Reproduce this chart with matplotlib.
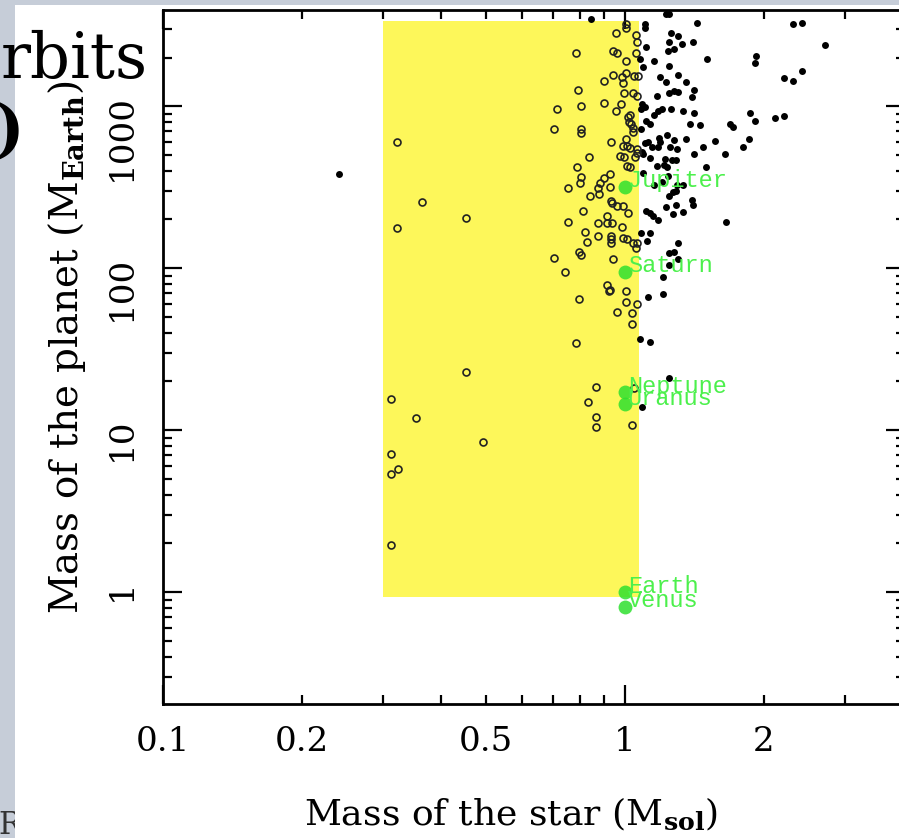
import numpy as np
import matplotlib.pyplot as plt
from matplotlib.ticker import FixedLocator, FuncFormatter, LogLocator
from matplotlib.patches import Rectangle

# planets found around stars outside the highlighted band (filled dots)
star_out = [1.227, 1.245, 0.844, 1.105, 1.432, 1.105, 1.258, 1.303, 1.403, 1.245,
            1.329, 1.110, 1.239, 1.277, 1.078, 1.155, 1.505, 1.245, 1.094, 1.303,
            1.191, 1.227, 1.356, 1.411, 1.277, 1.245, 1.303, 1.173, 1.396, 1.088,
            1.105, 1.083, 1.258, 1.202, 1.179, 1.336, 1.411, 1.155, 1.110, 1.133,
            1.382, 1.453, 1.083, 1.233, 1.356, 1.277, 1.185, 1.121, 1.105, 1.191,
            1.566, 1.144, 1.179, 1.251, 1.296, 1.475, 1.088, 1.094, 1.411, 1.133,
            1.221, 1.264, 1.290, 1.214, 1.173, 1.233, 1.497, 1.094, 1.239, 1.155,
            1.202, 1.296, 1.336, 1.270, 1.290, 1.245, 1.396, 1.403, 1.227, 1.290,
            1.110, 1.133, 1.150, 1.179, 1.270, 1.336, 1.083, 1.133, 1.116, 1.303,
            1.245, 1.277, 1.303, 1.245, 1.208, 1.121, 1.208, 2.31, 2.416, 2.71,
            1.92, 1.911, 2.416, 2.21, 2.31, 1.864, 1.911, 2.112, 2.21, 1.69,
            1.713, 1.855, 1.80, 1.646, 1.654, 1.078, 1.133, 1.245, 1.088, 0.240]
planet_out = [3700, 3700, 3440, 3210, 3255, 3030, 2820, 2705, 2485, 2485,
              2415, 2313, 2185, 2250, 1950, 1895, 1950, 1765, 1740, 1553,
              1510, 1406, 1406, 1256, 1239, 1202, 1220, 1153, 1137, 1028,
              986, 958, 958, 958, 931, 931, 905, 880, 808, 774,
              774, 763, 721, 662, 625, 617, 634, 600, 591, 600,
              608, 558, 558, 558, 543, 558, 520, 506, 506, 478,
              471, 464, 464, 432, 426, 420, 420, 386, 370, 325,
              340, 325, 325, 294, 299, 278, 263, 245, 238, 245,
              225, 219, 209, 198, 216, 222, 164, 164, 147, 143,
              124, 126, 114, 104, 88, 66, 69, 3210, 3255, 2380,
              2035, 1840, 1645, 1489, 1426, 905, 808, 843, 867, 774,
              742, 625, 558, 506, 192, 36.5, 34.9, 20.9, 13.9, 380]

# planets inside the highlighted band (open circles)
star_in = [1.005, 1.005, 1.056, 0.956, 1.062, 0.783, 0.942, 0.961, 1.056, 1.005,
           0.942, 0.985, 1.005, 1.046, 1.067, 0.901, 0.990, 0.791, 0.995, 1.041,
           1.062, 0.980, 0.901, 0.712, 0.803, 0.956, 1.015, 1.025, 1.020, 1.030,
           1.041, 0.803, 0.803, 0.702, 1.041, 0.933, 1.005, 0.990, 1.010, 1.025,
           1.062, 0.836, 0.975, 0.995, 1.051, 1.062, 1.010, 0.787, 1.025, 0.803,
           0.799, 0.753, 0.928, 0.901, 0.883, 0.874, 0.928, 0.840, 0.878, 0.933,
           0.937, 0.961, 0.990, 1.015, 0.811, 0.914, 0.753, 0.874, 0.914, 0.937,
           0.985, 0.819, 0.874, 0.933, 0.933, 0.933, 0.990, 1.010, 1.041, 1.062,
           1.056, 0.827, 0.795, 0.803, 0.702, 0.942, 0.741, 0.914, 0.928, 1.005,
           0.795, 1.005, 1.062, 0.961, 1.035, 1.035, 0.923, 0.783, 0.453, 0.866,
           1.046, 0.311, 0.832, 0.353, 0.866, 0.866, 1.035, 0.493, 0.311, 0.322,
           0.311, 0.311, 0.321, 0.363, 0.453, 0.321]
planet_in = [3210, 3030, 2740, 2820, 2485, 2125, 2185, 2125, 2125, 1895,
             1553, 1510, 1600, 1531, 1531, 1426, 1387, 1256, 1202, 1202,
             1153, 1028, 1044, 958, 1000, 931, 855, 880, 797, 774,
             731, 721, 681, 721, 691, 600, 625, 566, 566, 550,
             543, 484, 491, 484, 484, 513, 426, 420, 420, 365,
             335, 312, 380, 359, 335, 312, 316, 278, 286, 259,
             252, 241, 241, 219, 225, 209, 192, 190, 190, 190,
             179, 167, 158, 158, 151, 143, 153, 151, 143, 143,
             133, 145, 126, 120, 115, 114, 94.5, 78.5, 73, 72,
             64.5, 61.7, 60, 53.5, 52.7, 45.1, 72, 34.4, 22.8, 18.4,
             18.2, 15.5, 14.9, 11.9, 12.0, 10.4, 10.7, 8.43, 7.11, 5.74,
             5.35, 1.95, 600, 255, 204, 177]

# solar system planets
sol_names = ["Jupiter", "Saturn", "Neptune", "Uranus", "Earth", "Venus"]
sol_star = [1, 1, 1, 1, 1, 1]
sol_mass = [318, 95, 17.1, 14.5, 1.0, 0.815]

# highlighted band
band_star = (0.30, 1.072)
band_planet = (0.93, 3350)

plt.rcParams['font.family'] = 'DejaVu Serif'
plt.rcParams['mathtext.fontset'] = 'dejavuserif'

fig = plt.figure(figsize=(8.99, 8.38), dpi=100)
fig.patch.set_facecolor('#c6cdd8')
fig.add_artist(Rectangle((15/899, 0), 1, 1 - 5/838, transform=fig.transFigure,
                         facecolor='white', edgecolor='none', zorder=-1))
fig.text(-2/899, 1 - 834/838, 'RS', fontsize=22, color='#333333', zorder=-2)
fig.text(148/899, 1 - 78/838, 'rbits', ha='right', va='baseline', fontsize=45)
fig.text(24/899, 1 - 150/838, ')', ha='right', va='baseline', fontsize=45, fontweight='bold')

ax = fig.add_axes([163/899, 1 - 704/838, (905 - 163)/899, (704 - 10)/838])
ax.set_xscale('log')
ax.set_yscale('log')
ax.set_xlim(0.1, 4.04)
ax.set_ylim(0.204, 3930)

ax.add_patch(Rectangle((band_star[0], band_planet[0]), band_star[1] - band_star[0],
                       band_planet[1] - band_planet[0], facecolor='#fdf75a',
                       edgecolor='none', zorder=1))
ax.plot(star_out, planet_out, 'o', color='black', ms=5, mew=0, zorder=3)
ax.plot(star_in, planet_in, 'o', mfc='none', mec='#222222', ms=5, mew=1.2, zorder=3)
ax.plot(sol_star, sol_mass, 'o', color='#2fe02f', ms=10, mew=0, alpha=0.85, zorder=4)
for name, xs, ys in zip(sol_names, sol_star, sol_mass):
    ax.annotate(name, (xs, ys), xytext=(2, 4.3), textcoords='offset points',
                family='Liberation Mono', fontsize=17, color='#4cf04c',
                ha='left', va='center', zorder=5)

ax.xaxis.set_major_locator(FixedLocator([0.1, 1]))
ax.xaxis.set_minor_locator(FixedLocator([0.2, 0.3, 0.4, 0.5, 0.6, 0.7, 0.8, 0.9, 2, 3, 4]))
ax.xaxis.set_major_formatter(FuncFormatter(lambda v, p: '%g' % v))
ax.xaxis.set_minor_formatter(FuncFormatter(
    lambda v, p: '%g' % v if round(v, 3) in (0.2, 0.5, 2) else ''))
ax.yaxis.set_major_locator(FixedLocator([1, 10, 100, 1000]))
ax.yaxis.set_minor_locator(LogLocator(base=10, subs=np.arange(2, 10), numticks=20))
ax.yaxis.set_major_formatter(FuncFormatter(lambda v, p: '%g' % v))
ax.yaxis.set_minor_formatter(FuncFormatter(lambda v, p: ''))

ax.tick_params(which='both', direction='in', top=True, right=True, width=1.6,
               labelsize=24.5)
ax.tick_params(axis='x', which='both', pad=16)
ax.tick_params(axis='y', which='both', pad=18, labelrotation=90)
ax.tick_params(which='major', length=13.5)
ax.tick_params(which='minor', length=6.5)
for s in ax.spines.values():
    s.set_linewidth(2)

ax.set_xlabel(r'Mass of the star (M$_{\mathbf{sol}}$)', fontsize=26)
ax.set_ylabel(r'Mass of the planet (M$_{\mathbf{Earth}}$)', fontsize=28)
ax.xaxis.set_label_coords(0.469, -0.131)
ax.yaxis.set_label_coords(-0.101, 0.514)

fig.savefig('out.png', dpi=100)
